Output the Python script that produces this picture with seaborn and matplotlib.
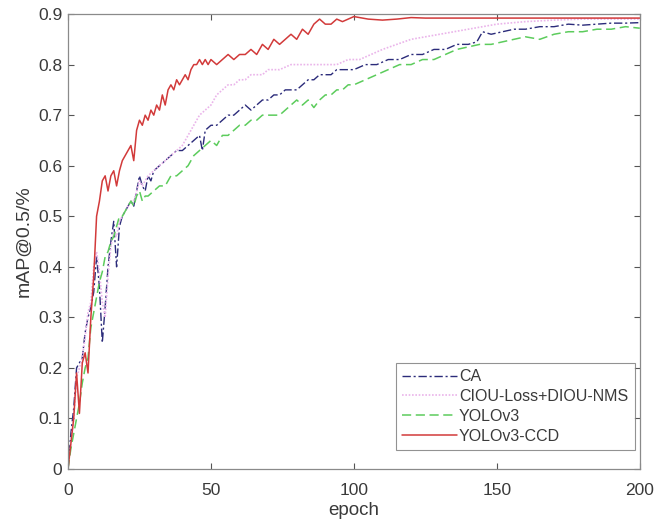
import matplotlib
matplotlib.use("Agg")
import matplotlib.pyplot as plt
import seaborn as sns
import pandas as pd

# ---------------- data ----------------
ccd_x = list(range(0, 51)) + list(range(52, 101, 2)) + list(range(105, 201, 5))
ccd_y = [0.00, 0.05, 0.10, 0.19, 0.11, 0.21, 0.23, 0.19, 0.30, 0.38,
         0.50, 0.53, 0.57, 0.58, 0.55, 0.58, 0.59, 0.56, 0.59, 0.61,
         0.62, 0.63, 0.64, 0.61, 0.67, 0.69, 0.68, 0.70, 0.69, 0.71,
         0.70, 0.72, 0.71, 0.74, 0.72, 0.75, 0.76, 0.75, 0.77, 0.76,
         0.77, 0.78, 0.77, 0.79, 0.80, 0.80, 0.81, 0.80, 0.81, 0.80, 0.81,
         0.80, 0.81, 0.82, 0.81, 0.82, 0.82, 0.83, 0.82, 0.84, 0.83,
         0.85, 0.84, 0.85, 0.86, 0.85, 0.87, 0.86, 0.88, 0.89, 0.88,
         0.88, 0.89, 0.885, 0.89, 0.895,
         0.89, 0.888, 0.89, 0.893, 0.892, 0.892, 0.892, 0.892, 0.892, 0.892,
         0.892, 0.892, 0.892, 0.892, 0.892, 0.892, 0.892, 0.892, 0.892, 0.892]

ca_x = list(range(0, 30)) + list(range(30, 47, 2)) + [47] + list(range(48, 101, 2)) + \
       list(range(104, 141, 4)) + [143, 145, 148, 152, 156, 160, 165, 170, 175, 180, 185, 190, 195, 200]
ca_y = [0.00, 0.07, 0.12, 0.20, 0.21, 0.22, 0.27, 0.30, 0.32, 0.35,
        0.42, 0.36, 0.25, 0.32, 0.40, 0.45, 0.49, 0.40, 0.48, 0.50,
        0.51, 0.52, 0.53, 0.52, 0.55, 0.58, 0.56, 0.55, 0.58, 0.57,
        0.59, 0.60, 0.61, 0.62, 0.63, 0.63, 0.64, 0.65, 0.66,
        0.63,
        0.67, 0.68, 0.68, 0.69, 0.70, 0.70, 0.71, 0.72, 0.71, 0.72,
        0.73, 0.73, 0.74, 0.74, 0.75, 0.75, 0.75, 0.76, 0.77, 0.77,
        0.78, 0.78, 0.78, 0.79, 0.79, 0.79, 0.79,
        0.80, 0.80, 0.81, 0.81, 0.82, 0.82, 0.83, 0.83, 0.84, 0.84,
        0.845, 0.865, 0.86, 0.865, 0.87, 0.87, 0.875, 0.875, 0.88, 0.878,
        0.88, 0.882, 0.882, 0.883]

ciou_x = list(range(0, 29)) + list(range(30, 71, 2)) + list(range(74, 107, 4)) + \
         list(range(110, 151, 5)) + [160, 170, 180, 190, 200]
ciou_y = [0.00, 0.05, 0.10, 0.18, 0.20, 0.22, 0.26, 0.31, 0.33, 0.40,
          0.43, 0.39, 0.33, 0.30, 0.38, 0.44, 0.47, 0.46, 0.49, 0.50,
          0.51, 0.52, 0.53, 0.53, 0.55, 0.57, 0.56, 0.57, 0.58,
          0.59, 0.60, 0.61, 0.62, 0.63, 0.64, 0.66, 0.68, 0.70, 0.71,
          0.72, 0.74, 0.75, 0.76, 0.76, 0.77, 0.77, 0.78, 0.78, 0.78, 0.79,
          0.79, 0.80, 0.80, 0.80, 0.80, 0.80, 0.81, 0.81, 0.82,
          0.83, 0.84, 0.85, 0.855, 0.86, 0.865, 0.87, 0.875, 0.88,
          0.885, 0.888, 0.89, 0.89, 0.89]

yolo_x = list(range(0, 29)) + list(range(30, 101, 2)) + list(range(104, 161, 4)) + \
         [165, 170, 175, 180, 185, 190, 195, 200]
yolo_y = [0.00, 0.04, 0.07, 0.10, 0.13, 0.17, 0.20, 0.22, 0.28, 0.31,
          0.34, 0.37, 0.39, 0.42, 0.43, 0.45, 0.46, 0.48, 0.50, 0.50,
          0.51, 0.52, 0.53, 0.52, 0.54, 0.55, 0.53, 0.54, 0.54,
          0.55, 0.56, 0.56, 0.58, 0.58, 0.59, 0.60, 0.62, 0.63, 0.64,
          0.65, 0.64, 0.66, 0.66, 0.67, 0.68, 0.68, 0.69, 0.69, 0.70,
          0.70, 0.70, 0.70, 0.71, 0.72, 0.73, 0.72, 0.73, 0.715, 0.73,
          0.74, 0.74, 0.75, 0.75, 0.76, 0.76,
          0.77, 0.78, 0.79, 0.80, 0.80, 0.81, 0.81, 0.82, 0.83, 0.835,
          0.84, 0.84, 0.845, 0.85, 0.855,
          0.85, 0.86, 0.865, 0.865, 0.87, 0.87, 0.875, 0.872]

series_names = ["CA", "CIOU-Loss+DIOU-NMS", "YOLOv3", "YOLOv3-CCD"]
x_ticks = [0, 50, 100, 150, 200]
y_ticks = [0, 0.1, 0.2, 0.3, 0.4, 0.5, 0.6, 0.7, 0.8, 0.9]
y_tick_labels = ["0", "0.1", "0.2", "0.3", "0.4", "0.5", "0.6", "0.7", "0.8", "0.9"]

# ---------------- plot ----------------
sns.set_style("white")
plt.rcParams["font.family"] = ["Liberation Sans", "DejaVu Sans"]

fig = plt.figure(figsize=(6.55, 5.2), dpi=100)
ax = fig.add_axes([0.1038, 0.098, 0.873, 0.875])

series = [
    (ca_x, ca_y, series_names[0], "#2b2b7a", (0, (6, 2, 1.5, 2)), 1.0),
    (ciou_x, ciou_y, series_names[1], "#eab4ea", (0, (1, 1)), 1.2),
    (yolo_x, yolo_y, series_names[2], "#5ccc5c", (0, (6, 3)), 1.1),
    (ccd_x, ccd_y, series_names[3], "#d23a3a", "-", 1.1),
]
for xs, ys, name, col, ls, lw in series:
    df = pd.DataFrame({"epoch": xs, "val": ys})
    sns.lineplot(data=df, x="epoch", y="val", ax=ax, color=col, linestyle=ls,
                 linewidth=lw, label=name)

ax.set_xlim(0, 200)
ax.set_ylim(0, 0.9)
ax.set_xticks(x_ticks)
ax.set_xticklabels([str(t) for t in x_ticks])
ax.set_yticks(y_ticks)
ax.set_yticklabels(y_tick_labels)
ax.tick_params(direction="in", length=4, width=0.8, colors="#555555",
               labelcolor="#3a3a3a", labelsize=12.5, top=True, right=True,
               bottom=True, left=True)
ax.tick_params(axis="x", pad=10)
ax.tick_params(axis="y", pad=4)
for s in ax.spines.values():
    s.set_color("#8a8a8a")
    s.set_linewidth(0.9)

ax.set_xlabel("epoch", fontsize=13.5, color="#3a3a3a", labelpad=3)
ax.set_ylabel("mAP@0.5/%", fontsize=14, color="#3a3a3a", labelpad=4)

leg = ax.legend(loc="lower right", bbox_to_anchor=(0.991, 0.042), fontsize=11.5,
                frameon=True, fancybox=False, handlelength=3.4, handletextpad=0.15,
                labelspacing=0.3, borderpad=0.4, borderaxespad=0.0)
leg.get_frame().set_edgecolor("#777777")
leg.get_frame().set_linewidth(0.8)
for t in leg.get_texts():
    t.set_color("#3a3a3a")

fig.savefig("out.png", dpi=100)
